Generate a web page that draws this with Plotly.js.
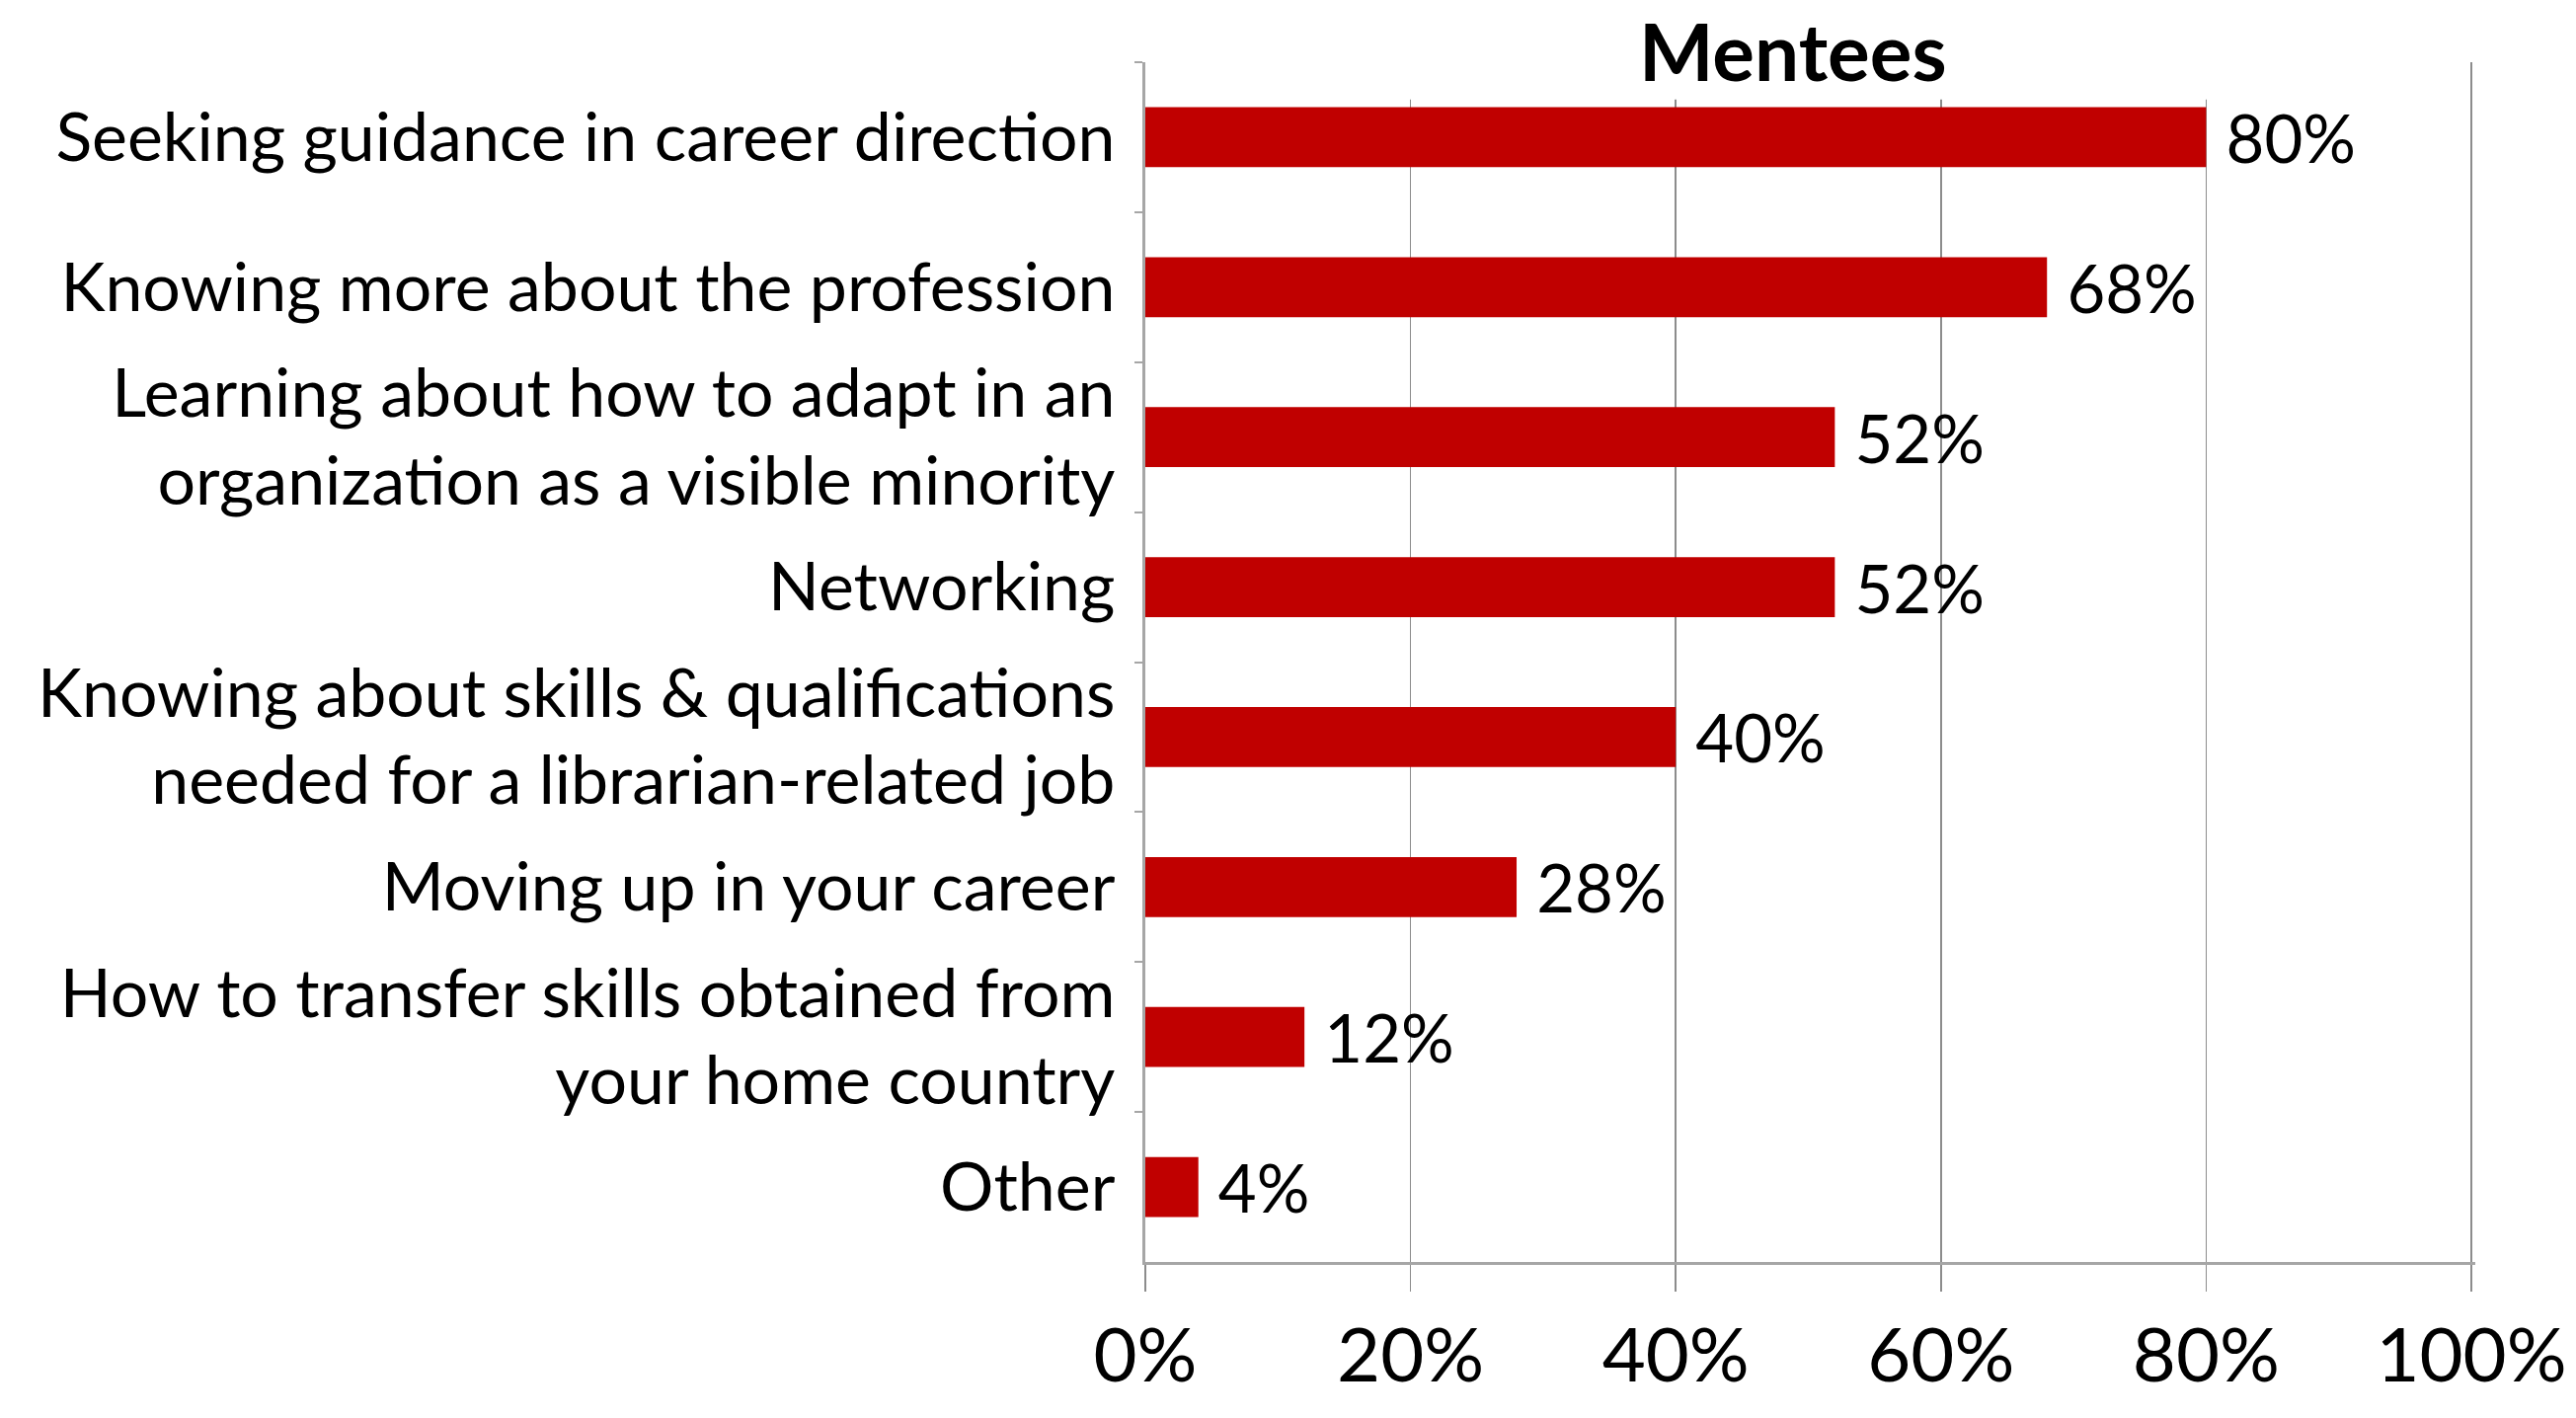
<!DOCTYPE html>
<html>
<head>
<meta charset="utf-8">
<script src="https://cdn.plot.ly/plotly-3.0.1.min.js"></script>
<style>
html,body{margin:0;padding:0;background:#fff;}
#chart{width:2609px;height:1436px;}
</style>
</head>
<body>
<div id="chart"></div>
<script>
const categories = [
  "Seeking guidance in career direction",
  "Knowing more about the profession",
  "Learning about how to adapt in an<br>organization as a visible minority",
  "Networking",
  "Knowing about skills &amp; qualifications<br>needed for a librarian-related job",
  "Moving up in your career",
  "How to transfer skills obtained from<br>your home country",
  "Other"
];
const values = [0.80, 0.68, 0.52, 0.52, 0.40, 0.28, 0.12, 0.04];
const xTickValues = [0, 0.2, 0.4, 0.6, 0.8, 1.0];
const xTickLabels = ["0%", "20%", "40%", "60%", "80%", "100%"];
const chartTitle = "Mentees";

const FONT = 'Lato, "Liberation Sans", sans-serif';

const trace = {
  type: 'bar',
  orientation: 'h',
  x: values,
  y: categories,
  width: 0.4,
  marker: {color: '#C00000', line: {width: 0}},
  texttemplate: '\u00a0%{x:.0%}',
  textposition: 'outside',
  constraintext: 'none',
  cliponaxis: false,
  textfont: {family: FONT, size: 67, color: '#000'},
  hoverinfo: 'none'
};

const layout = {
  width: 2609,
  height: 1436,
  margin: {l: 1160, r: 102, t: 63, b: 158},
  paper_bgcolor: '#ffffff',
  plot_bgcolor: '#ffffff',
  showlegend: false,
  font: {family: FONT, color: '#000'},
  annotations: [{
    text: '<b>' + chartTitle + '</b>',
    font: {family: FONT, size: 80, color: '#000'},
    xref: 'paper', x: 0.487, xanchor: 'center',
    yref: 'paper', y: 1.0505, yanchor: 'top',
    showarrow: false, borderpad: 0
  }],
  xaxis: {
    range: [0, 1.003],
    tickvals: xTickValues,
    ticktext: xTickLabels,
    ticklabeloverflow: 'allow',
    showgrid: true,
    gridcolor: '#8c8c8c',
    gridwidth: 1.5,
    zeroline: false,
    showline: true,
    linecolor: '#a6a6a6',
    linewidth: 3,
    ticks: 'outside',
    ticklen: 27,
    tickwidth: 1.5,
    tickcolor: '#8c8c8c',
    tickfont: {family: FONT, size: 76, color: '#000'},
    fixedrange: true
  },
  yaxis: {
    type: 'category',
    autorange: 'reversed',
    tickson: 'boundaries',
    showline: true,
    linecolor: '#a6a6a6',
    linewidth: 3,
    ticks: 'outside',
    ticklen: 8,
    tickwidth: 2,
    tickcolor: '#a6a6a6',
    ticklabelstandoff: 14,
    showgrid: false,
    tickfont: {family: FONT, size: 68, color: '#000'},
    fixedrange: true
  },
  shapes: [{
    type: 'rect', xref: 'paper', yref: 'paper',
    x0: 0.12, x1: 0.88, y0: 0.969, y1: 1.0,
    fillcolor: '#ffffff', line: {width: 0}, layer: 'above'
  }]
};

Plotly.newPlot('chart', [trace], layout, {displayModeBar: false, staticPlot: true});
</script>
</body>
</html>
